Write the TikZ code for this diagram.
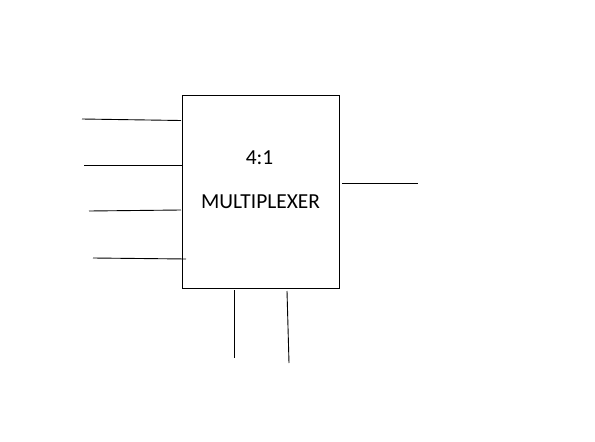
\documentclass[tikz,border=0pt]{standalone}
\usepackage{fontspec}
\setmainfont{Carlito}
\begin{document}
\begin{tikzpicture}[x=1pt,y=-1pt,
  wire/.style={line width=0.9pt},
  label/.style={font=\fontsize{21.4}{25}\selectfont, inner sep=0pt}]
\useasboundingbox (0,0) rectangle (595,442);
\node[draw, line width=0.9pt, minimum width=157pt, minimum height=193pt, inner sep=0pt, anchor=north west] (mux) at (182,95) {};
\node[label] (t1) at (259.5,158) {4:1};
\node[label] (t2) at (260.5,202) {MULTIPLEXER};
% inputs
\coordinate (i1a) at (82,119); \coordinate (i1b) at (181,120.5);
\coordinate (i2a) at (84,165); \coordinate (i2b) at (182,165);
\coordinate (i3a) at (89,211); \coordinate (i3b) at (181,210);
\coordinate (i4a) at (93,258); \coordinate (i4b) at (186,259);
\draw[wire] (i1a) -- (i1b);
\draw[wire] (i2a) -- (i2b);
\draw[wire] (i3a) -- (i3b);
\draw[wire] (i4a) -- (i4b);
% output
\coordinate (oa) at (342,183); \coordinate (ob) at (418,183);
\draw[wire] (oa) -- (ob);
% selects
\coordinate (s1a) at (234,290); \coordinate (s1b) at (234,358);
\coordinate (s2a) at (287,291); \coordinate (s2b) at (289,363);
\draw[wire] (s1a) -- (s1b);
\draw[wire] (s2a) -- (s2b);
\end{tikzpicture}
\end{document}
